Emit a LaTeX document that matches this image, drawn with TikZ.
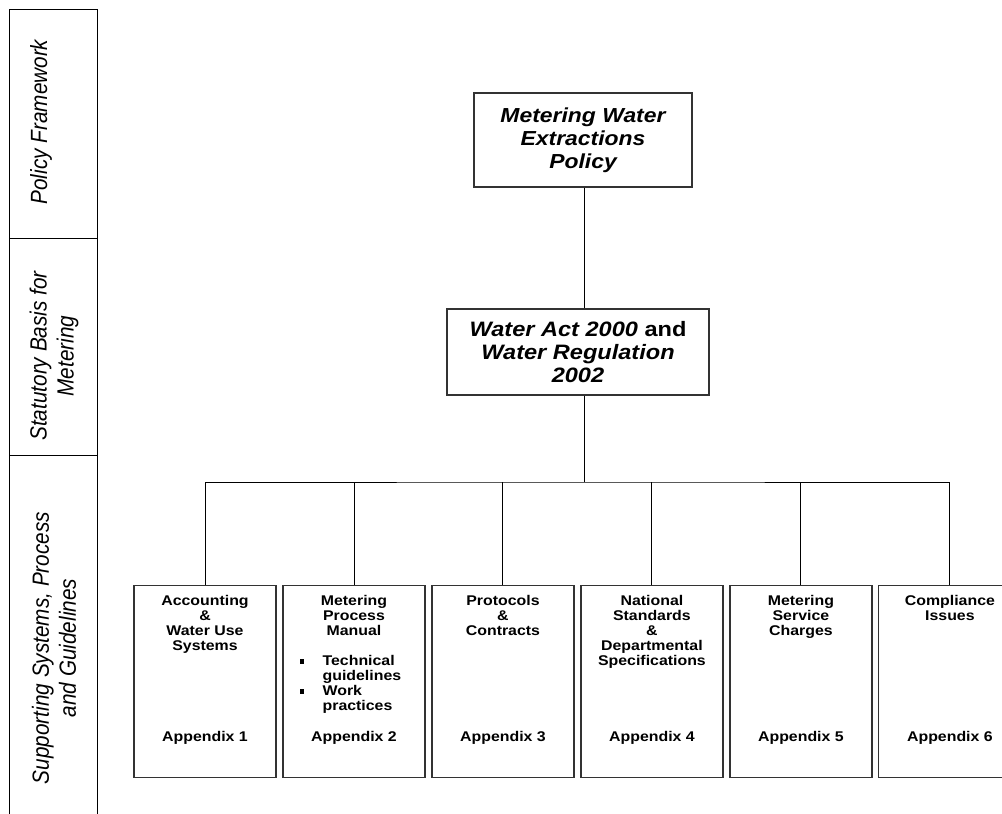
\documentclass[tikz,border=0pt]{standalone}
\usepackage{fontspec}
\setmainfont{Liberation Sans}[FakeStretch=1.13]
\newfontfamily\sidefont{Liberation Sans}[FakeStretch=0.885]
\usetikzlibrary{positioning}
\newcommand{\sqbul}{\rule[0.05cm]{0.13cm}{0.13cm}}

\begin{document}
\begin{tikzpicture}[
  x=0.03cm, y=-0.03cm,
  headbox/.style={draw=black!80, line width=1pt, minimum width=6.54cm, minimum height=2.82cm, align=center, inner sep=0pt, font=\fontsize{17.3}{19.8}\selectfont\bfseries\itshape},
  actbox/.style={headbox, minimum width=7.86cm, minimum height=2.58cm, font=\fontsize{17.8}{19.8}\selectfont\bfseries},
  appbox/.style={draw=black!80, line width=1pt, minimum width=4.26cm, minimum height=5.76cm, inner sep=0pt},
  apptitle/.style={align=center, inner sep=0pt, font=\fontsize{12}{12.8}\selectfont\bfseries},
  applist/.style={inner sep=0pt, font=\fontsize{12}{12.8}\selectfont\bfseries},
  sidelabel/.style={rotate=90, align=center, inner sep=0pt, font=\sidefont\fontsize{20}{23}\selectfont\itshape},
  frame/.style={line width=0.8pt},
  link/.style={line width=0.8pt},
  ]
  \useasboundingbox (0,0) rectangle (1002,814);
  \clip (0,0) rectangle (1002,814);

  % left column
  \draw[frame] (9,830) -- (9,9) -- (97,9) -- (97,830);
  \draw[frame] (9,238) -- (97,238);
  \draw[frame] (9,455) -- (97,455);
  \node[sidelabel] (lpolicy) at (41,122) {Policy Framework};
  \node[sidelabel] (lstat) at (54,356) {Statutory Basis for\\Metering};
  \node[sidelabel] (lsupp) at (54,648) {Supporting Systems, Process\\and Guidelines};

  % policy and act
  \node[headbox] (policy) at (583,140) {Metering Water\\Extractions\\Policy};
  \node[actbox] (act) at (578,352) {\textit{Water Act 2000} and\\\textit{Water Regulation}\\\textit{2002}};

  % appendices
  \node[appbox, anchor=north] (acc) at (205,585) {};
  \node[appbox, right=0.174cm of acc] (man) {};
  \node[appbox, right=0.174cm of man] (prot) {};
  \node[appbox, right=0.174cm of prot] (nat) {};
  \node[appbox, right=0.174cm of nat] (serv) {};
  \node[appbox, right=0.174cm of serv] (comp) {};

  \node[apptitle, below=0.3cm of acc.north] (acc-t) {Accounting\\\&\\Water Use\\Systems};
  \node[apptitle, below=0.3cm of man.north] (man-t) {Metering\\Process\\Manual};
  \node[applist, below right=2.085cm and 0.51cm of man.north west] (man-l) {\begin{tabular}{@{}l@{\hspace{0.56cm}}l@{}}\sqbul&Technical\\&guidelines\\\sqbul&Work\\&practices\end{tabular}};
  \node[apptitle, below=0.3cm of prot.north] (prot-t) {Protocols\\\&\\Contracts};
  \node[apptitle, below=0.3cm of nat.north] (nat-t) {National\\Standards\\\&\\Departmental\\Specifications};
  \node[apptitle, below=0.3cm of serv.north] (serv-t) {Metering\\Service\\Charges};
  \node[apptitle, below=0.3cm of comp.north] (comp-t) {Compliance\\Issues};

  \node[apptitle, above=1.02cm of acc.south] (acc-a) {Appendix 1};
  \node[apptitle, above=1.02cm of man.south] (man-a) {Appendix 2};
  \node[apptitle, above=1.02cm of prot.south] (prot-a) {Appendix 3};
  \node[apptitle, above=1.02cm of nat.south] (nat-a) {Appendix 4};
  \node[apptitle, above=1.02cm of serv.south] (serv-a) {Appendix 5};
  \node[apptitle, above=1.02cm of comp.south] (comp-a) {Appendix 6};

  % connectors
  \coordinate (bus) at (584,482);
  \draw[link] (policy.south -| bus) -- (act.north -| bus);
  \draw[link] (act.south -| bus) -- (bus);
  \draw[link] (acc.north) |- (bus) -| (comp.north);
  \draw[link] (man.north) -- (man.north |- bus);
  \draw[link] (prot.north) -- (prot.north |- bus);
  \draw[link] (nat.north) -- (nat.north |- bus);
  \draw[link] (serv.north) -- (serv.north |- bus);
\end{tikzpicture}
\end{document}
